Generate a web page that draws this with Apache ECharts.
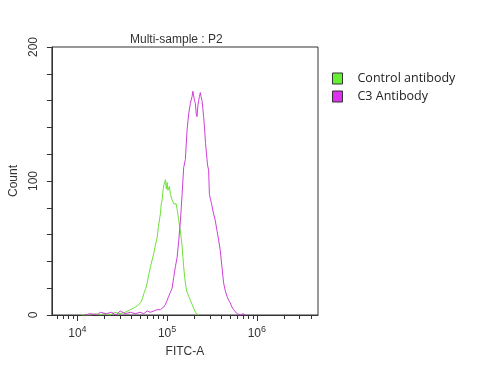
<!DOCTYPE html>
<html><head><meta charset="utf-8">
<script src="https://cdn.jsdelivr.net/npm/echarts@6/dist/echarts.min.js"></script>
<style>html,body{margin:0;padding:0;background:#fff}#c{width:478px;height:376px}</style>
</head><body><div id="c"></div>
<script>
const titleText = 'Multi-sample : P2';
const xName = 'FITC-A';
const yName = 'Count';
const seriesNames = ['Control antibody', 'C3 Antibody'];
const xMajorTicks = [1e4, 1e5, 1e6];
const xMinorTicks = [6e3, 7e3, 8e3, 9e3, 2e4, 3e4, 4e4, 5e4, 6e4, 7e4, 8e4, 9e4, 2e5, 3e5, 4e5, 5e5, 6e5, 7e5, 8e5, 9e5, 2e6, 3e6, 4e6];
const yLabelValues = [0, 100, 200];

// Control antibody histogram: [FITC-A intensity, count]
const controlData = [
  [11000,0],[11450,1],[14000,0],[16000,1],[18000,0],[20000,1],[23000,0],[26000,2],[30000,1],[34000,2],
  [39000,4],[42000,5],[44400,6],[47000,7],[50500,9],[53000,12],[55000,16],[58000,20],[60000,24],[62000,29],
  [65200,36],[68000,41],[71000,46],[74000,52],[77400,58],[80000,66],[84300,76],[86000,83],[88000,86],[90000,93],
  [92000,97],[95800,101],[98000,94],[100000,99],[102000,93],[104200,93],[106000,96],[108800,90],[111000,91],[113600,86],
  [116000,87],[118400,83],[121000,84],[123600,82],[126000,83],[129200,79],[132000,75],[134500,71],[137000,67],[140500,63],
  [143000,58],[146800,52],[150000,43],[152900,36],[157000,28],[159600,24],[163000,20],[166800,17],[173800,14],[181500,11],
  [189600,8],[197700,5],[206300,2],[215400,1],[224400,0]
];
// C3 Antibody histogram: [FITC-A intensity, count]
const c3Data = [
  [12000,0],[14000,1],[16500,0],[18000,2],[21000,1],[24000,2],[27000,0],[30000,3],[34000,1],[39000,2],
  [44000,1],[50000,2],[55000,1],[60000,3],[65000,2],[71000,3],[77400,4],[84300,4],[91700,6],[96000,8],
  [100000,11],[104200,14],[108800,17],[113600,20],[118400,28],[123600,36],[129200,43],[134500,55],[140500,70],[146800,90],
  [152900,110],[159600,116],[166800,138],[173800,150],[181500,158],[189600,163],[193500,167],[197700,166],[202000,160],[206300,158],
  [211000,150],[215400,148],[220000,156],[224400,160],[229000,163],[234400,166],[239000,163],[244800,160],[250000,154],[255300,148],
  [262000,138],[268000,128],[274000,121],[282000,112],[290000,108],[296000,90],[305000,86],[313000,83],[328000,76],[343000,71],
  [359400,63],[375000,56],[391000,48],[408000,36],[425700,24],[445000,18],[464200,14],[485000,11],[505100,9],[527000,6],
  [549600,4],[575000,3],[599500,1],[625000,2],[652300,0],[700000,1],[741000,0]
];

const colors = ['#6ee03c', '#cf3fd8'];
const legendFill = ['#66f033', '#dd33ee'];
const FONT = 'Liberation Sans';
const chart = echarts.init(document.getElementById('c'));
const xMin = 5200, xMax = 4.8e6;
chart.setOption({
  animation: false,
  backgroundColor: '#fff',
  title: {
    text: titleText, left: 125, top: 29,
    textStyle: {fontFamily: FONT, fontSize: 12, fontWeight: 'normal', color: '#333'}
  },
  legend: {
    orient: 'vertical', left: 327, top: 67, itemWidth: 10, itemHeight: 11, itemGap: 5,
    icon: 'rect',
    textStyle: {fontFamily: 'Open Sans', fontSize: 12.5, color: '#222', padding: [2, 0, 0, 10]},
    data: seriesNames.map((n, i) => ({name: n, itemStyle: {color: legendFill[i], borderColor: '#333', borderWidth: 1}}))
  },
  grid: {left: 51, right: 160, top: 47, bottom: 61, show: true, borderColor: '#333', borderWidth: 1, backgroundColor: 'transparent'},
  xAxis: [{
    type: 'log', logBase: 10, min: xMin, max: xMax,
    name: xName, nameLocation: 'middle', nameGap: 31,
    nameTextStyle: {fontFamily: FONT, fontSize: 12, color: '#333'},
    axisLine: {show: true, lineStyle: {color: '#333'}},
    axisTick: {show: true, length: 6, lineStyle: {color: '#333'}, customValues: xMajorTicks},
    axisLabel: {
      customValues: xMajorTicks, margin: 10,
      formatter: v => '{b|10}{s|' + Math.round(Math.log10(v)) + '}',
      rich: {
        b: {fontFamily: FONT, fontSize: 12, color: '#333'},
        s: {fontFamily: FONT, fontSize: 9, color: '#333', verticalAlign: 'top', padding: [0, 0, 8, 0]}
      }
    },
    splitLine: {show: false}
  }, {
    type: 'log', logBase: 10, min: xMin, max: xMax, position: 'bottom',
    axisLine: {show: false},
    axisTick: {show: true, length: 4, lineStyle: {color: '#333'}, customValues: xMinorTicks},
    axisLabel: {show: false},
    splitLine: {show: false}
  }],
  yAxis: {
    type: 'value', min: 0, max: 200, interval: 20,
    name: yName, nameLocation: 'middle', nameGap: 31, nameRotate: 90,
    nameTextStyle: {fontFamily: FONT, fontSize: 12, color: '#333'},
    axisLine: {show: true, lineStyle: {color: '#333'}},
    axisTick: {show: true, length: 5, lineStyle: {color: '#333'}},
    axisLabel: {customValues: yLabelValues, rotate: 90, margin: 12, fontFamily: FONT, fontSize: 12, color: '#333'},
    splitLine: {show: false}
  },
  series: [
    {name: seriesNames[0], type: 'line', data: controlData, showSymbol: false, xAxisIndex: 0,
     lineStyle: {width: 1, color: colors[0]}, itemStyle: {color: colors[0]}, z: 2},
    {name: seriesNames[1], type: 'line', data: c3Data, showSymbol: false, xAxisIndex: 0,
     lineStyle: {width: 1, color: colors[1]}, itemStyle: {color: colors[1]}, z: 3}
  ]
});
</script></body></html>
